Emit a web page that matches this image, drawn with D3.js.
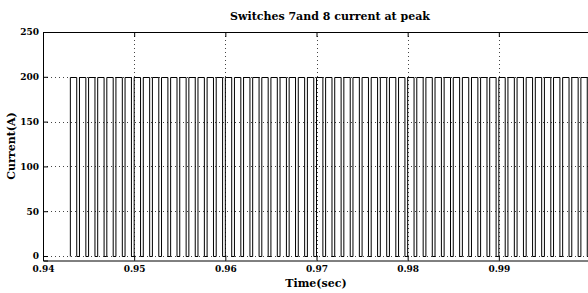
<!DOCTYPE html>
<html>
<head>
<meta charset="utf-8">
<script src="https://cdn.jsdelivr.net/npm/d3@7"></script>
<style>
  body { margin: 0; background: #fff; }
</style>
</head>
<body>
<div id="chart"></div>
<script>
// switch current pulses (1 kHz)
var riseTimes = [0.9430,0.9440,0.9450,0.9460,0.9470,0.9480,0.9490,0.9500,0.9510,0.9520,
                 0.9530,0.9540,0.9550,0.9560,0.9570,0.9580,0.9590,0.9600,0.9610,0.9620,
                 0.9630,0.9640,0.9650,0.9660,0.9670,0.9680,0.9690,0.9700,0.9710,0.9720,
                 0.9730,0.9740,0.9750,0.9760,0.9770,0.9780,0.9790,0.9800,0.9810,0.9820,
                 0.9830,0.9840,0.9850,0.9860,0.9870,0.9880,0.9890,0.9900,0.9910,0.9920,
                 0.9930,0.9940,0.9950,0.9960,0.9970,0.9980,0.9990];
var fallTimes = [0.9437,0.9447,0.9457,0.9467,0.9477,0.9487,0.9497,0.9507,0.9517,0.9527,
                 0.9537,0.9547,0.9557,0.9567,0.9577,0.9587,0.9597,0.9607,0.9617,0.9627,
                 0.9637,0.9647,0.9657,0.9667,0.9677,0.9687,0.9697,0.9707,0.9717,0.9727,
                 0.9737,0.9747,0.9757,0.9767,0.9777,0.9787,0.9797,0.9807,0.9817,0.9827,
                 0.9837,0.9847,0.9857,0.9867,0.9877,0.9887,0.9897,0.9907,0.9917,0.9927,
                 0.9937,0.9947,0.9957,0.9967,0.9977,0.9987,0.9997];
var peakCurrent = 200;

var xTicks = [0.94,0.95,0.96,0.97,0.98,0.99];
var yTicks = [0,50,100,150,200,250];

const width = 588, height = 293;
const mLeft = 43, mRight = 590, mTop = 32, mBottom = 260.5;
const serif = "'DejaVu Serif', serif";

const svg = d3.select("#chart").append("svg")
    .attr("width", width)
    .attr("height", height);

var x = d3.scaleLinear().domain([0.94, 1.0]).range([mLeft, mRight]);
var y = d3.scaleLinear().domain([-5, 250]).range([mBottom, mTop]);

// grid
var grid = svg.append("g").attr("class", "grid");
grid.selectAll("line.v")
    .data(xTicks.slice(1))
    .enter().append("line")
    .attr("x1", d => Math.round(x(d)) + 0.5)
    .attr("x2", d => Math.round(x(d)) + 0.5)
    .attr("y1", mTop).attr("y2", mBottom)
    .style("stroke", "#444")
    .style("stroke-dasharray", "1,3");
grid.selectAll("line.h")
    .data(yTicks.slice(0, -1))
    .enter().append("line")
    .attr("x1", mLeft).attr("x2", mRight)
    .attr("y1", d => Math.round(y(d)) + 0.5)
    .attr("y2", d => Math.round(y(d)) + 0.5)
    .style("stroke", "#444")
    .style("stroke-dasharray", "1,3");

// pulse train
var pts = [];
riseTimes.forEach(function (t, i) {
    pts.push([t, 0], [t, peakCurrent], [fallTimes[i], peakCurrent], [fallTimes[i], 0]);
});
pts.push([1.0, 0]);

var line = d3.line()
    .x(d => x(d[0]))
    .y(d => Math.round(y(d[1])) + 0.5);

svg.append("path")
    .datum(pts)
    .attr("d", line)
    .style("fill", "none")
    .style("stroke", "#000")
    .style("stroke-width", 1);

// axes
var xAxisB = d3.axisBottom(x).tickValues(xTicks).tickSize(-5).tickPadding(5)
    .tickFormat(d3.format(".2f"));
var gB = svg.append("g").attr("transform", "translate(0," + mBottom + ")").call(xAxisB);

var xAxisT = d3.axisTop(x).tickValues(xTicks).tickSize(-5).tickFormat("");
var gT = svg.append("g").attr("transform", "translate(0," + mTop + ")").call(xAxisT);

var yAxis = d3.axisLeft(y).tickValues(yTicks).tickSize(-5).tickPadding(4);
var gL = svg.append("g").attr("transform", "translate(" + mLeft + ",0)").call(yAxis);

[gB, gT, gL].forEach(function (g) {
    g.attr("font-family", serif).attr("font-size", 9);
    g.select(".domain").style("stroke", "#000");
    g.selectAll(".tick line").style("stroke", "#000");
    g.selectAll("text")
        .attr("font-weight", "bold")
        .attr("fill", "#000");
});

// titles
svg.append("text")
    .attr("x", 330).attr("y", 20)
    .attr("text-anchor", "middle")
    .attr("font-family", serif)
    .attr("font-weight", "bold")
    .attr("font-size", 11)
    .text("Switches 7and 8 current at peak");

svg.append("text")
    .attr("x", 316).attr("y", 287)
    .attr("text-anchor", "middle")
    .attr("font-family", serif)
    .attr("font-weight", "bold")
    .attr("font-size", 11)
    .text("Time(sec)");

svg.append("text")
    .attr("transform", "translate(15,146) rotate(-90)")
    .attr("text-anchor", "middle")
    .attr("font-family", serif)
    .attr("font-weight", "bold")
    .attr("font-size", 11)
    .text("Current(A)");
</script>
</body>
</html>
